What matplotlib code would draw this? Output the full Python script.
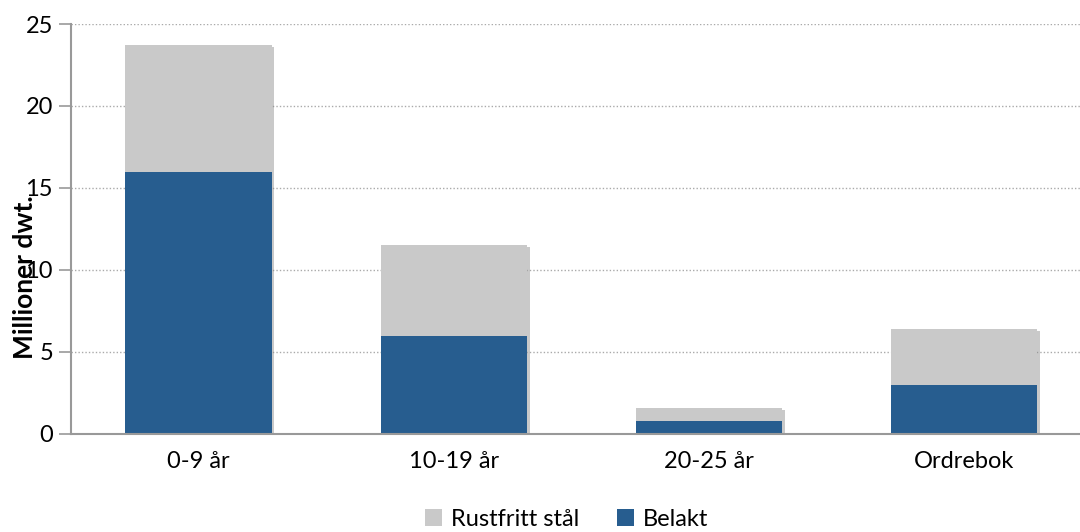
import matplotlib
matplotlib.use("Agg")
import matplotlib.pyplot as plt
import matplotlib.patheffects as pe
import numpy as np

plt.rcParams['font.family'] = ['Lato', 'DejaVu Sans']

categories = ["0-9 år", "10-19 år", "20-25 år", "Ordrebok"]
belakt = [16.0, 6.0, 0.8, 3.0]
rustfritt = [7.7, 5.5, 0.8, 3.4]

BLUE = "#275d8f"
GREY = "#c9c9c9"

fig = plt.figure(figsize=(10.8, 5.32), dpi=100)
ax = fig.add_axes([71 / 1080, 1 - 434 / 532, 1 - 71 / 1080, 410 / 532])

x = np.arange(len(categories))
width = 0.573
total = np.add(belakt, rustfritt)

# soft drop shadow behind each full stack
shadow = [pe.SimplePatchShadow(offset=(2, -1.5), shadow_rgbFace="#888888", alpha=0.45)]
ax.bar(x, total, width=width, color="none", edgecolor="none", zorder=2, path_effects=shadow)

b1 = ax.bar(x, belakt, width=width, color=BLUE, label="Belakt", zorder=3)
b2 = ax.bar(x, rustfritt, width=width, bottom=belakt, color=GREY, label="Rustfritt stål", zorder=3)

ax.set_xlim(-0.5, 3.455)
ax.set_ylim(0, 25)
ax.set_yticks(range(0, 26, 5))
ax.set_xticks(x)
ax.set_xticklabels(categories, fontsize=17)
ax.tick_params(axis='y', labelsize=17, length=9, color="#999999", width=1.2, pad=4)
ax.tick_params(axis='x', length=0, pad=12)

ax.yaxis.grid(True, linestyle=(0, (1, 1.5)), color="#aaaaaa", linewidth=1, zorder=0)
for s in ["top", "right"]:
    ax.spines[s].set_visible(False)
for s in ["left", "bottom"]:
    ax.spines[s].set_color("#999999")
    ax.spines[s].set_linewidth(1.5)
    ax.spines[s].set_zorder(4)

fig.text(25 / 1080, 1 - 277 / 532, "Millioner dwt.", rotation=90, fontsize=19,
         fontweight="bold", ha="center", va="center")

fig.legend([b2, b1], ["Rustfritt stål", "Belakt"], loc="center", bbox_to_anchor=(0.525, 1 - 519 / 532),
           ncol=2, frameon=False, fontsize=17, handlelength=0.7, handleheight=0.7,
           handletextpad=0.4, columnspacing=1.6)

fig.savefig("out.png", dpi=100)
